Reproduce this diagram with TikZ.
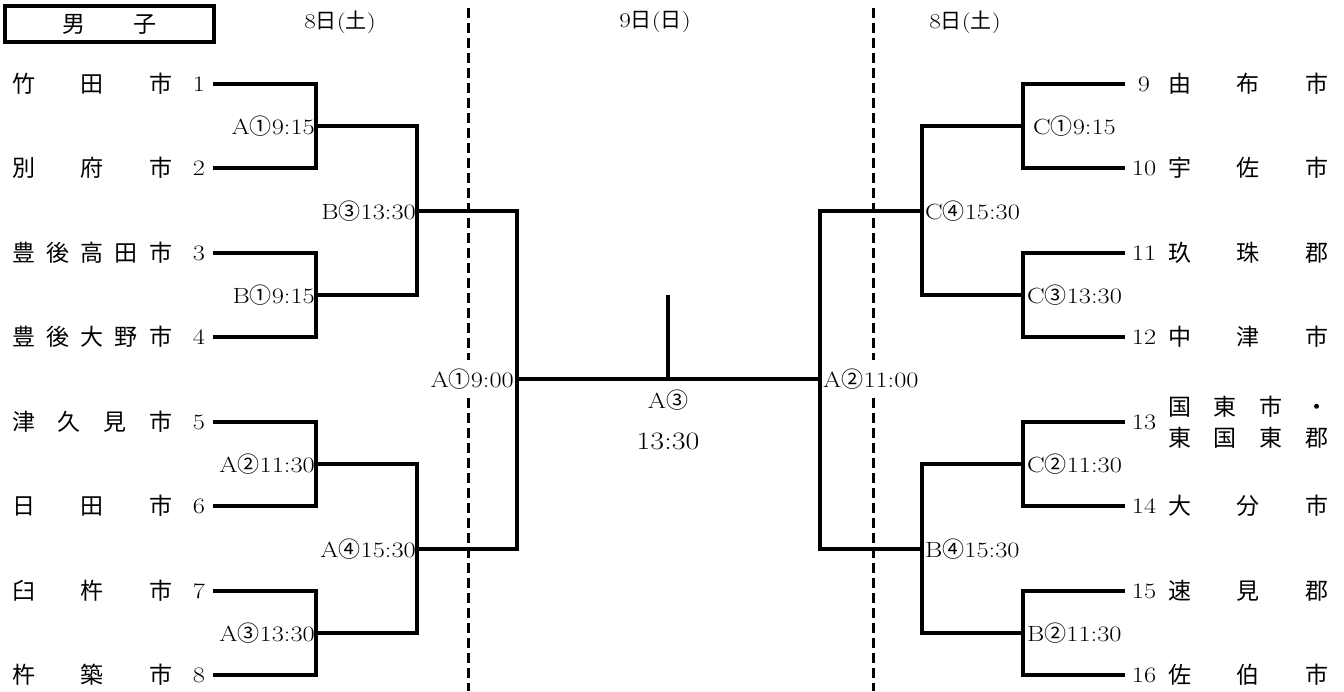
\documentclass[tikz,border=0pt]{standalone}
\usepackage{fontspec}
\newfontfamily\cjk{Noto Sans CJK JP}
\newfontfamily\wide{Latin Modern Roman}[FakeStretch=1.2]
\newcommand\ci[1]{{\cjk #1}}
\newcommand\spreadname[1]{\hbox to 160pt{#1}}
\tikzset{
  br/.style={line width=3.2pt, line join=miter},
  dline/.style={line width=3pt, dash pattern=on 10pt off 5pt},
  tname/.style={font=\cjk\fontsize{23pt}{31pt}\selectfont, inner sep=0pt, anchor=west, align=left},
  tnum/.style={font=\wide\fontsize{22pt}{24pt}\selectfont, inner sep=0pt},
  lab/.style={font=\wide\fontsize{22pt}{24pt}\selectfont, inner xsep=1pt, inner ysep=2pt},
  labw/.style={lab, fill=white, inner ysep=9pt},
  dayl/.style={font=\wide\fontsize{21pt}{23pt}\selectfont, inner sep=1pt},
  boxl/.style={draw, line width=3.2pt, minimum width=209pt, minimum height=36pt, inner sep=0pt, font=\cjk\fontsize{23pt}{25pt}\selectfont},
}
\begin{document}
\begin{tikzpicture}[x=1pt, y=-1pt]
\useasboundingbox (0,0) rectangle (1344,691);

% dashed day separators
\coordinate (d1t) at (468,8);   \coordinate (d1b) at (468,691);
\coordinate (d2t) at (873,8);   \coordinate (d2b) at (873,691);
\draw[dline] (d1t) -- (d1b);
\draw[dline] (d2t) -- (d2b);

% header
\node[boxl] (sex) at (109.5,24) {\hbox to 95pt{男\hfill 子}};
\node[dayl] (day1) at (340,22) {8\ci{日}(\ci{土})};
\node[dayl] (day2) at (655,22) {9\ci{日}(\ci{日})};
\node[dayl] (day3) at (965,22) {8\ci{日}(\ci{土})};

% left teams
\node[tname] (n1) at (12,84)  {\spreadname{竹\hfill 田\hfill 市}};
\node[tname] (n2) at (12,168) {\spreadname{別\hfill 府\hfill 市}};
\node[tname] (n3) at (12,253) {\spreadname{豊\hfill 後\hfill 高\hfill 田\hfill 市}};
\node[tname] (n4) at (12,337) {\spreadname{豊\hfill 後\hfill 大\hfill 野\hfill 市}};
\node[tname] (n5) at (12,422) {\spreadname{津\hfill 久\hfill 見\hfill 市}};
\node[tname] (n6) at (12,506) {\spreadname{日\hfill 田\hfill 市}};
\node[tname] (n7) at (12,591) {\spreadname{臼\hfill 杵\hfill 市}};
\node[tname] (n8) at (12,675) {\spreadname{杵\hfill 築\hfill 市}};
\node[tnum] (k1) at (199,84)  {1};
\node[tnum] (k2) at (199,168) {2};
\node[tnum] (k3) at (199,253) {3};
\node[tnum] (k4) at (199,337) {4};
\node[tnum] (k5) at (199,422) {5};
\node[tnum] (k6) at (199,506) {6};
\node[tnum] (k7) at (199,591) {7};
\node[tnum] (k8) at (199,675) {8};

% right teams
\node[tname] (n9)  at (1168,84)  {\spreadname{由\hfill 布\hfill 市}};
\node[tname] (n10) at (1168,168) {\spreadname{宇\hfill 佐\hfill 市}};
\node[tname] (n11) at (1168,253) {\spreadname{玖\hfill 珠\hfill 郡}};
\node[tname] (n12) at (1168,337) {\spreadname{中\hfill 津\hfill 市}};
\node[tname] (n13) at (1168,422) {\spreadname{国\hfill 東\hfill 市\hfill ・}\\\spreadname{東\hfill 国\hfill 東\hfill 郡}};
\node[tname] (n14) at (1168,506) {\spreadname{大\hfill 分\hfill 市}};
\node[tname] (n15) at (1168,591) {\spreadname{速\hfill 見\hfill 郡}};
\node[tname] (n16) at (1168,675) {\spreadname{佐\hfill 伯\hfill 市}};
\node[tnum] (k9)  at (1144,84)  {9};
\node[tnum] (k10) at (1144,168) {10};
\node[tnum] (k11) at (1144,253) {11};
\node[tnum] (k12) at (1144,337) {12};
\node[tnum] (k13) at (1144,422) {13};
\node[tnum] (k14) at (1144,506) {14};
\node[tnum] (k15) at (1144,591) {15};
\node[tnum] (k16) at (1144,675) {16};

% bracket points
\coordinate (t1) at (213,84);  \coordinate (t2) at (213,168);
\coordinate (t3) at (213,253); \coordinate (t4) at (213,337);
\coordinate (t5) at (213,422); \coordinate (t6) at (213,506);
\coordinate (t7) at (213,591); \coordinate (t8) at (213,675);
\coordinate (m1) at (316,126); \coordinate (m2) at (316,295);
\coordinate (m3) at (316,464); \coordinate (m4) at (316,633);
\coordinate (q1) at (417,211); \coordinate (q2) at (417,549);
\coordinate (sL) at (517,379);
\coordinate (fc) at (668,379); \coordinate (ft) at (668,295);
\coordinate (sR) at (820,379);
\coordinate (q3) at (922,211); \coordinate (q4) at (922,549);
\coordinate (m5) at (1023,126); \coordinate (m6) at (1023,295);
\coordinate (m7) at (1023,464); \coordinate (m8) at (1023,633);
\coordinate (t9) at (1125,84);   \coordinate (t10) at (1125,168);
\coordinate (t11) at (1125,253); \coordinate (t12) at (1125,337);
\coordinate (t13) at (1125,422); \coordinate (t14) at (1125,506);
\coordinate (t15) at (1125,591); \coordinate (t16) at (1125,675);

% match labels
\node[lab, anchor=east] (gA1) at (m1) {A\ci{①}9:15};
\node[lab, anchor=east] (gB1) at (m2) {B\ci{①}9:15};
\node[lab, anchor=east] (gA2) at (m3) {A\ci{②}11:30};
\node[lab, anchor=east] (gA3) at (m4) {A\ci{③}13:30};
\node[lab, anchor=east] (gB3) at (q1) {B\ci{③}13:30};
\node[lab, anchor=east] (gA4) at (q2) {A\ci{④}15:30};
\node[labw, anchor=east] (sA1) at ([xshift=-2pt]sL) {A\ci{①}9:00};
\node[labw, anchor=west] (sA2) at ([xshift=2pt]sR) {A\ci{②}11:00};
\node[lab, anchor=west] (gC4) at ([xshift=2pt]q3) {C\ci{④}15:30};
\node[lab, anchor=west] (gB4) at ([xshift=2pt]q4) {B\ci{④}15:30};
\node[lab, anchor=west] (gC1) at ([xshift=9pt]m5) {C\ci{①}9:15};
\node[lab, anchor=west] (gC3) at ([xshift=3pt]m6) {C\ci{③}13:30};
\node[lab, anchor=west] (gC2) at ([xshift=3pt]m7) {C\ci{②}11:30};
\node[lab, anchor=west] (gB2) at ([xshift=3pt]m8) {B\ci{②}11:30};
\node[lab] (fin) at (668,400) {A\ci{③}};
\node[font=\wide\fontsize{25pt}{27pt}\selectfont, inner sep=1pt] (fint) at (668,441) {13:30};

% brackets left
\draw[br] (t1) -| (m1) |- (t2);
\draw[br] (t3) -| (m2) |- (t4);
\draw[br] (t5) -| (m3) |- (t6);
\draw[br] (t7) -| (m4) |- (t8);
\draw[br] (m1) -| (q1) |- (m2);
\draw[br] (m3) -| (q2) |- (m4);
\draw[br] (q1) -| (sL) |- (q2);
% final
\draw[br] (sL) -- (sR);
\draw[br] (fc) -- (ft);
% brackets right
\draw[br] (t9) -| (m5) |- (t10);
\draw[br] (t11) -| (m6) |- (t12);
\draw[br] (t13) -| (m7) |- (t14);
\draw[br] (t15) -| (m8) |- (t16);
\draw[br] (m5) -| (q3) |- (m6);
\draw[br] (m7) -| (q4) |- (m8);
\draw[br] (q3) -| (sR) |- (q4);
\end{tikzpicture}
\end{document}
